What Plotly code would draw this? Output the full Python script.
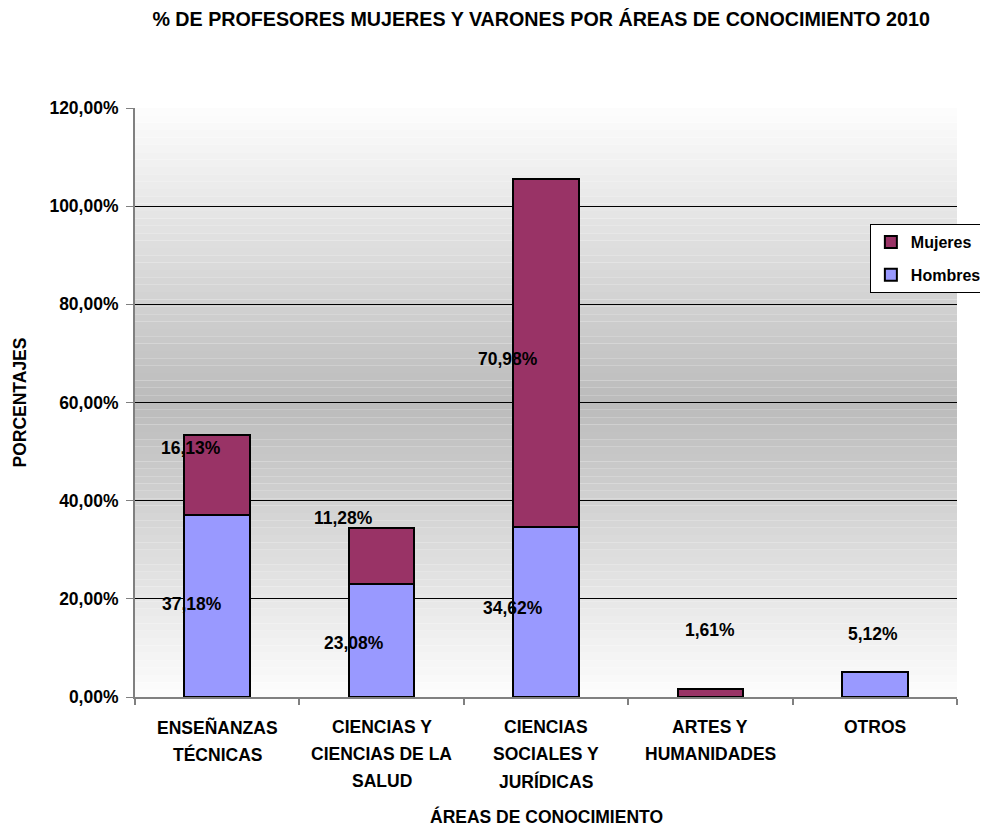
import plotly.graph_objects as go

categories = ["ENSEÑANZAS<br>TÉCNICAS", "CIENCIAS Y<br>CIENCIAS DE LA<br>SALUD",
              "CIENCIAS<br>SOCIALES Y<br>JURÍDICAS", "ARTES Y<br>HUMANIDADES", "OTROS"]
hombres = [37.18, 23.08, 34.62, 0.0, 5.12]
mujeres = [16.13, 11.28, 70.98, 1.61, 0.0]
y_ticks = [0, 20, 40, 60, 80, 100, 120]

FONT = "Liberation Sans, Arial, sans-serif"
FS = 17.5
C_H = "#9999FF"
C_M = "#993366"


def fmt(v):
    return f"{v:.2f}".replace(".", ",") + "%"


fig = go.Figure()
fig.add_trace(go.Bar(name="Hombres", x=categories, y=hombres, legendgroup="h", legendrank=2,
                     marker=dict(color=C_H, line=dict(color="black", width=2))))
fig.add_trace(go.Bar(name="Mujeres", x=categories, y=mujeres, legendgroup="m", legendrank=1,
                     marker=dict(color=C_M, line=dict(color="black", width=2))))

# gradient background (white -> gray -> white)
n = 80
shapes = []
for i in range(n):
    t = (i + 0.5) / n
    g = int(round(253 - 66 * (1 - abs(2 * t - 1))))
    shapes.append(dict(type="rect", xref="paper", yref="paper", x0=0, x1=1, y0=i / n, y1=(i + 1) / n,
                       fillcolor=f"rgb({g},{g},{g})", line=dict(width=0), layer="below"))

lab_font = dict(family=FONT, size=FS, color="black")
bold = lambda s: f"<b>{s}</b>"

# data labels, placed as in the original (offsets in px)
h_off = [(-25, 2), (-28, -3), (-33, 4), None, (-2, 50)]
m_off = [(-26, 27), (-38, 38), (-38, -6), (0, 63), None]
annotations = []
for i, c in enumerate(categories):
    if hombres[i] > 0 and h_off[i]:
        annotations.append(dict(x=c, y=hombres[i] / 2, text=bold(fmt(hombres[i])), showarrow=False,
                                xshift=h_off[i][0], yshift=h_off[i][1], font=lab_font))
    if mujeres[i] > 0 and m_off[i]:
        annotations.append(dict(x=c, y=hombres[i] + mujeres[i] / 2, text=bold(fmt(mujeres[i])), showarrow=False,
                                xshift=m_off[i][0], yshift=m_off[i][1], font=lab_font))

# category tick labels, one annotation per line (wider line spacing than plotly's default)
for c in categories:
    for k, line in enumerate(c.split("<br>")):
        annotations.append(dict(x=c, y=0, yref="y", text=bold(line), showarrow=False,
                                yanchor="middle", yshift=-(30 + 27 * k), font=lab_font))

# axis titles
annotations.append(dict(x=0.5, y=-0.2037, xref="paper", yref="paper", text=bold("ÁREAS DE CONOCIMIENTO"),
                        showarrow=False, xanchor="center", yanchor="middle", font=lab_font))
annotations.append(dict(x=-0.1411, y=0.5, xref="paper", yref="paper", text=bold("PORCENTAJES"),
                        showarrow=False, xanchor="center", yanchor="middle", textangle=-90, font=lab_font))

fig.update_layout(
    width=980, height=822,
    barmode="stack", bargap=0.6,
    paper_bgcolor="white", plot_bgcolor="rgba(0,0,0,0)",
    margin=dict(l=127, r=31, t=100, b=133, autoexpand=False),
    font=dict(family=FONT, size=FS, color="black"),
    title=dict(text=bold("% DE PROFESORES MUJERES Y VARONES POR ÁREAS DE CONOCIMIENTO 2010"),
               x=0.544, xanchor="center", y=0.9866, yanchor="middle", yref="container",
               font=dict(size=19.7)),
    shapes=shapes,
    annotations=annotations,
    showlegend=True,
    legend=dict(x=0.894, xanchor="left", y=0.803, yanchor="top", traceorder="grouped",
                tracegroupgap=9, itemwidth=30,
                bgcolor="white", bordercolor="black", borderwidth=1,
                font=dict(size=16, family=FONT, weight="bold")),
    xaxis=dict(showline=True, linecolor="#808080", linewidth=2, ticks="outside", tickson="boundaries",
               ticklen=6, tickcolor="#808080", tickwidth=2, showticklabels=False),
    yaxis=dict(range=[0, 120], tickvals=y_ticks, ticktext=[bold(fmt(v)) for v in y_ticks],
               ticklabelstandoff=4,
               showline=True, linecolor="#808080", linewidth=2, ticks="outside", ticklen=7,
               tickcolor="#808080", showgrid=True, gridcolor="black", gridwidth=1, zeroline=False),
)
fig.write_html("out.html")
